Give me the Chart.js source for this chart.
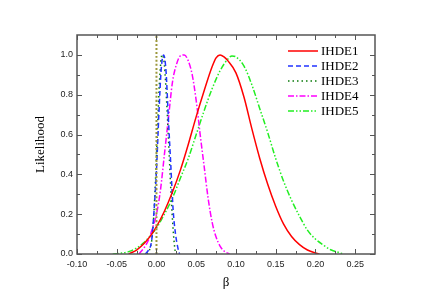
<!DOCTYPE html>
<html>
<head>
<meta charset="utf-8">
<script src="https://cdn.jsdelivr.net/npm/chart.js@4"></script>
<style>
  body { margin: 0; background: #fff; }
  canvas { display: block; }
</style>
</head>
<body>
<canvas id="likeChart" width="436" height="306"></canvas>
<script>
// Tick values for the axes
const xTickValues = [-0.10, -0.05, 0.00, 0.05, 0.10, 0.15, 0.20, 0.25];
const xMinorTicks = [-0.075, -0.025, 0.025, 0.075, 0.125, 0.175, 0.225];
const yTickValues = [0.0, 0.2, 0.4, 0.6, 0.8, 1.0];
const yMinorTicks = [0.1, 0.3, 0.5, 0.7, 0.9];

// IHDE1 - red solid
const ihde1Beta = [-0.035, -0.025, -0.015, -0.005, 0.0, 0.01, 0.02, 0.03, 0.04, 0.05, 0.06, 0.07, 0.075, 0.08, 0.085, 0.09, 0.10, 0.11, 0.12, 0.13, 0.14, 0.15, 0.16, 0.17, 0.18, 0.19, 0.20, 0.205];
const ihde1Like = [0.0, 0.02, 0.055, 0.105, 0.137, 0.215, 0.31, 0.42, 0.55, 0.69, 0.82, 0.94, 0.985, 1.0, 0.99, 0.97, 0.91, 0.79, 0.63, 0.48, 0.35, 0.24, 0.15, 0.088, 0.047, 0.02, 0.005, 0.0];

// IHDE2 - blue dashed
const ihde2Beta = [-0.014, -0.01, -0.006, -0.003, 0.0, 0.003, 0.006, 0.009, 0.012, 0.015, 0.018, 0.021, 0.024, 0.027, 0.029];
const ihde2Like = [0.0, 0.02, 0.07, 0.22, 0.42, 0.7, 0.93, 1.0, 0.92, 0.68, 0.45, 0.22, 0.1, 0.03, 0.0];

// IHDE3 - dark green dotted
const ihde3Beta = [-0.012, -0.008, -0.005, -0.002, 0.001, 0.004, 0.007, 0.01, 0.013, 0.016, 0.019, 0.022, 0.024];
const ihde3Like = [0.0, 0.03, 0.1, 0.3, 0.6, 0.88, 1.0, 0.95, 0.75, 0.5, 0.25, 0.07, 0.0];

// IHDE4 - magenta dash-dot
const ihde4Beta = [-0.022, -0.015, -0.01, -0.005, 0.0, 0.005, 0.01, 0.015, 0.02, 0.025, 0.03, 0.035, 0.04, 0.045, 0.05, 0.055, 0.06, 0.065, 0.07, 0.075, 0.08, 0.085, 0.092];
const ihde4Like = [0.0, 0.035, 0.07, 0.13, 0.2, 0.32, 0.5, 0.68, 0.86, 0.95, 0.995, 1.0, 0.97, 0.9, 0.77, 0.6, 0.44, 0.28, 0.16, 0.085, 0.04, 0.015, 0.0];

// IHDE5 - lime dash-dot-dot
const ihde5Beta = [-0.055, -0.045, -0.035, -0.025, -0.015, -0.005, 0.0, 0.01, 0.02, 0.03, 0.04, 0.05, 0.06, 0.07, 0.08, 0.09, 0.095, 0.10, 0.11, 0.12, 0.13, 0.14, 0.15, 0.16, 0.17, 0.18, 0.19, 0.20, 0.21, 0.22, 0.23, 0.235];
const ihde5Like = [0.0, 0.004, 0.012, 0.03, 0.06, 0.105, 0.13, 0.2, 0.28, 0.38, 0.48, 0.6, 0.72, 0.83, 0.92, 0.98, 0.995, 0.99, 0.945, 0.85, 0.73, 0.61, 0.48, 0.365, 0.27, 0.19, 0.12, 0.075, 0.045, 0.02, 0.007, 0.0];

// vertical reference line at beta = 0
const refBeta = [0.0, 0.0];
const refLike = [0.0, 1.1];

function toPoints(xs, ys) {
    return xs.map((v, i) => ({ x: v, y: ys[i] }));
}

function makeSet(label, xs, ys, color, dash, width) {
    return {
        label: label,
        data: toPoints(xs, ys),
        borderColor: color,
        borderWidth: width || 1.5,
        borderDash: dash,
        pointRadius: 0,
        fill: false,
        cubicInterpolationMode: 'monotone'
    };
}

// Draw the frame and inward ticks on all four sides
const frameTicks = {
    id: 'frameTicks',
    afterDatasetsDraw(chart) {
        const { ctx, chartArea: a, scales: { x, y } } = chart;
        ctx.save();
        ctx.strokeStyle = '#555';
        ctx.lineWidth = 1;
        ctx.beginPath();
        const tickX = (vals, len) => vals.forEach(v => {
            const px = Math.round(x.getPixelForValue(v)) + 0.5;
            ctx.moveTo(px, a.bottom); ctx.lineTo(px, a.bottom - len);
            ctx.moveTo(px, a.top); ctx.lineTo(px, a.top + len);
        });
        const tickY = (vals, len) => vals.forEach(v => {
            const py = Math.round(y.getPixelForValue(v)) + 0.5;
            ctx.moveTo(a.left, py); ctx.lineTo(a.left + len, py);
            ctx.moveTo(a.right, py); ctx.lineTo(a.right - len, py);
        });
        tickX(xTickValues, 5);
        tickX(xMinorTicks, 3);
        tickY(yTickValues, 5);
        tickY(yMinorTicks, 3);
        ctx.stroke();
        ctx.lineWidth = 1.5;
        ctx.strokeRect(a.left, a.top, a.right - a.left, a.bottom - a.top);
        ctx.restore();
    }
};

// Legend drawn inside the plot, top right
const innerLegend = {
    id: 'innerLegend',
    afterDraw(chart) {
        const { ctx, chartArea: a } = chart;
        ctx.save();
        ctx.font = '13px "Liberation Serif", "Times New Roman", serif';
        ctx.textBaseline = 'middle';
        ctx.fillStyle = '#000';
        let row = 0;
        chart.data.datasets.forEach(ds => {
            if (!ds.label) return;
            const yy = a.top + 16 + row * 15;
            const x0 = a.right - 87;
            ctx.strokeStyle = ds.borderColor;
            ctx.lineWidth = ds.borderWidth;
            ctx.setLineDash(ds.borderDash || []);
            ctx.beginPath();
            ctx.moveTo(x0, yy);
            ctx.lineTo(x0 + 30, yy);
            ctx.stroke();
            ctx.setLineDash([]);
            ctx.fillText(ds.label, x0 + 33, yy + 1);
            row++;
        });
        ctx.restore();
    }
};

const tickFont = { family: '"Liberation Sans", Arial, sans-serif', size: 9 };
const titleFont = { family: '"Liberation Serif", "Times New Roman", serif', size: 13 };

const ctx = document.getElementById('likeChart').getContext('2d');
new Chart(ctx, {
    type: 'line',
    data: {
        datasets: [
            makeSet('', refBeta, refLike, '#9c983c', [2, 2], 2),
            makeSet('IHDE1', ihde1Beta, ihde1Like, '#ff0000', []),
            makeSet('IHDE2', ihde2Beta, ihde2Like, '#2233ff', [5, 3]),
            makeSet('IHDE3', ihde3Beta, ihde3Like, '#0a7a0a', [1.5, 3]),
            makeSet('IHDE4', ihde4Beta, ihde4Like, '#ff00ff', [6, 2, 1.5, 2]),
            makeSet('IHDE5', ihde5Beta, ihde5Like, '#22ee22', [6, 2, 1.5, 2, 1.5, 2])
        ]
    },
    options: {
        responsive: false,
        animation: false,
        layout: { padding: { left: 29, right: 61, top: 35, bottom: 12 } },
        plugins: {
            legend: { display: false },
            tooltip: { enabled: false }
        },
        scales: {
            x: {
                type: 'linear',
                min: -0.10,
                max: 0.275,
                border: { display: false },
                grid: { display: false, drawTicks: false },
                afterBuildTicks: s => { s.ticks = xTickValues.map(v => ({ value: v })); },
                afterFit: s => { s.height = 40; },
                ticks: {
                    callback: v => v.toFixed(2),
                    font: tickFont,
                    color: '#222',
                    padding: 5,
                    maxRotation: 0,
                    autoSkip: false
                },
                title: { display: true, text: 'β', font: titleFont, color: '#000', padding: { top: 4, bottom: 4 } }
            },
            y: {
                min: 0,
                max: 1.1,
                border: { display: false },
                grid: { display: false, drawTicks: false },
                afterBuildTicks: s => { s.ticks = yTickValues.map(v => ({ value: v })); },
                afterFit: s => { s.width = 48; },
                ticks: {
                    callback: v => v.toFixed(1),
                    font: tickFont,
                    color: '#222',
                    padding: 4,
                    autoSkip: false
                },
                title: { display: true, text: 'Likelihood', font: titleFont, color: '#000', padding: { top: 4, bottom: 4 } }
            }
        }
    },
    plugins: [frameTicks, innerLegend]
});
</script>
</body>
</html>
